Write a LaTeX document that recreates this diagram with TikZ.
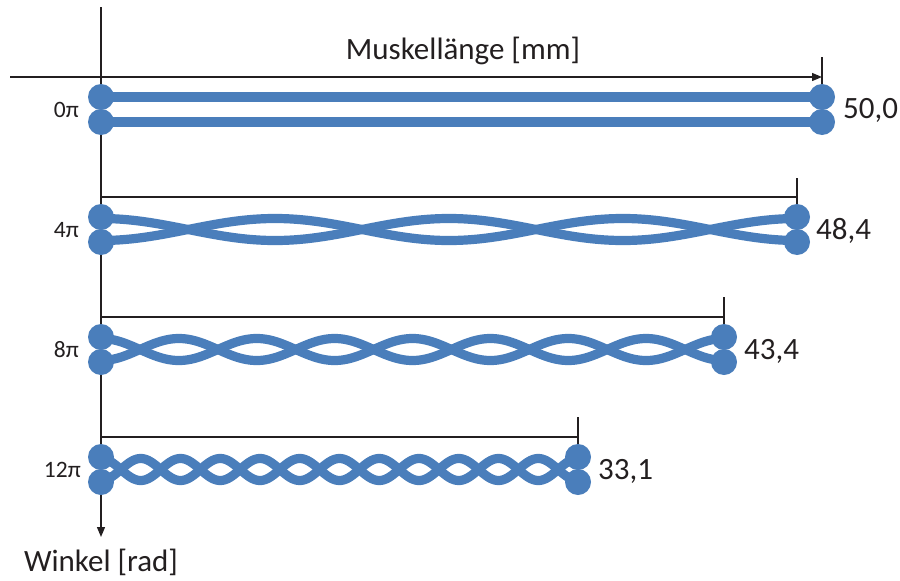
\documentclass[tikz,border=0pt]{standalone}
\usepackage{fontspec}
\setmainfont{Carlito}
\usetikzlibrary{arrows.meta}
\definecolor{strandblue}{RGB}{74,126,187}
\definecolor{axisink}{RGB}{35,31,32}
\tikzset{
  axisline/.style={draw=axisink, line width=1.3pt},
  axisarrow/.style={axisline, -{Triangle[length=10pt,width=8pt]}},
  bracketline/.style={draw=axisink, line width=1.1pt},
  strand/.style={draw=strandblue, line width=9.2pt},
  dot/.style={circle, fill=strandblue, inner sep=0pt, minimum size=26pt},
  biglabel/.style={font=\fontsize{31}{37}\selectfont, text=axisink, inner sep=0pt},
  smalllabel/.style={font=\fontsize{23.5}{28}\selectfont, text=axisink, inner sep=0pt},
}
\begin{document}
\begin{tikzpicture}[x=1pt, y=-1pt]
\useasboundingbox (0,0) rectangle (900,581);
% axes
\coordinate (ytop) at (101,7);
\coordinate (ybot) at (101,537);
\coordinate (xleft) at (10,77);
\coordinate (xright) at (822,77);
\draw[axisarrow] (ytop) -- (ybot);
\draw[axisarrow] (xleft) -- (xright);
\node[biglabel] (xlab) at (463,51) {Muskellänge [mm]};
\node[biglabel] (ylab) at (101,562) {Winkel [rad]};
% row 0
\coordinate (a0lc) at (101,97);
\coordinate (b0lc) at (101,122);
\coordinate (a0rc) at (822,97);
\coordinate (b0rc) at (822,122);
\coordinate (t0) at (822,57);
\draw[bracketline] (t0) -- (822,85);
\draw[strand] (a0lc) -- (a0rc);
\draw[strand] (b0lc) -- (b0rc);
\node[dot] (a0l) at (a0lc) {};
\node[dot] (b0l) at (b0lc) {};
\node[dot] (a0r) at (a0rc) {};
\node[dot] (b0r) at (b0rc) {};
\node[biglabel, anchor=west] (v0) at (843,110) {50,0};
\node[smalllabel, anchor=east] (r0) at (79,110) {0π};
% row 4pi
\coordinate (c4l) at (101,197);
\coordinate (c4r) at (797,197);
\coordinate (t4) at (797,178);
\draw[bracketline] (c4l) -- (c4r);
\draw[bracketline] (t4) -- (797,229);
\draw[strand] plot[domain=101:797, samples=300] (\x, {229.5 - 11*cos((\x-101)/174*180)});
\draw[strand] plot[domain=101:797, samples=300] (\x, {229.5 + 11*cos((\x-101)/174*180)});
\node[dot] (a4l) at (101,217) {};
\node[dot] (b4l) at (101,242) {};
\node[dot] (a4r) at (797,217) {};
\node[dot] (b4r) at (797,242) {};
\node[biglabel, anchor=west] (v4) at (816,231) {48,4};
\node[smalllabel, anchor=east] (r4) at (79,230) {4π};
% row 8pi
\coordinate (c8l) at (101,317);
\coordinate (c8r) at (724,317);
\coordinate (t8) at (724,297);
\draw[bracketline] (c8l) -- (c8r);
\draw[bracketline] (t8) -- (724,349);
\draw[strand] plot[domain=101:724, samples=400] (\x, {349.5 - 11*cos((\x-101)/77.875*180)});
\draw[strand] plot[domain=101:724, samples=400] (\x, {349.5 + 11*cos((\x-101)/77.875*180)});
\node[dot] (a8l) at (101,337) {};
\node[dot] (b8l) at (101,362) {};
\node[dot] (a8r) at (724,337) {};
\node[dot] (b8r) at (724,362) {};
\node[biglabel, anchor=west] (v8) at (744,351) {43,4};
\node[smalllabel, anchor=east] (r8) at (79,350) {8π};
% row 12pi
\coordinate (c12l) at (101,437);
\coordinate (c12r) at (578,437);
\coordinate (t12) at (578,417);
\draw[bracketline] (c12l) -- (c12r);
\draw[bracketline] (t12) -- (578,469);
\draw[strand] plot[domain=101:578, samples=500] (\x, {469.5 - 11*cos((\x-101)/39.75*180)});
\draw[strand] plot[domain=101:578, samples=500] (\x, {469.5 + 11*cos((\x-101)/39.75*180)});
\node[dot] (a12l) at (101,457) {};
\node[dot] (b12l) at (101,482) {};
\node[dot] (a12r) at (578,457) {};
\node[dot] (b12r) at (578,482) {};
\node[biglabel, anchor=west] (v12) at (598,471) {33,1};
\node[smalllabel, anchor=east] (r12) at (81,470) {12π};
\end{tikzpicture}
\end{document}
